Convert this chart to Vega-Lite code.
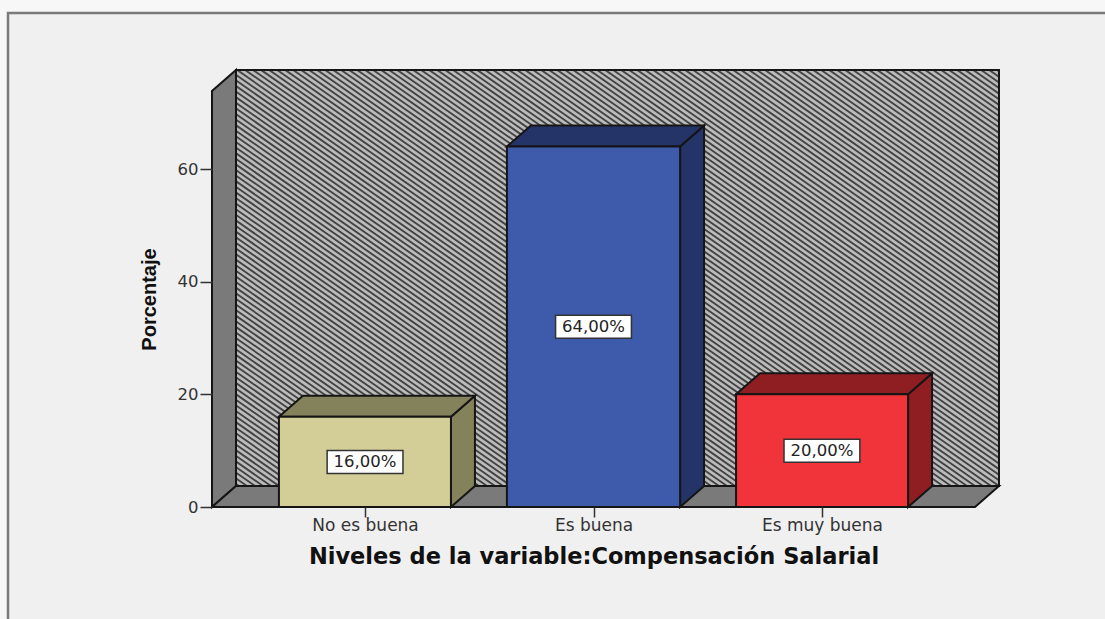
{
"$schema":"https://vega.github.io/schema/vega-lite/v6.json",
"width":763,"height":416,
"autosize":"none",
"padding":{"left":212,"top":91,"right":130,"bottom":112},
"background":"#f7f7f7",
"config":{"view":{"stroke":null}},
"datasets":{
"planos":[
{"part":"panel","x":-0.563,"x2":4.3,"y":-21,"y2":87.7},
{"part":"pared","x":0.435,"x2":3.775,"y":3.73,"y2":77.58}
],
"cubiertas":[
{"part":"panel","x":-0.563,"x2":0.435,"y":-21,"y2":87.7},
{"part":"panel","x":3.775,"x2":4.3,"y":-21,"y2":87.7},
{"part":"panel","x":0.4,"x2":3.8,"y":77.58,"y2":81},
{"part":"panel","x":0.4,"x2":3.8,"y":-1,"y2":3.73},
{"part":"exterior","x":-1.8,"x2":-0.563,"y":-21,"y2":95}
],
"marco":[{"x":-0.563,"x2":4.3,"y":-21,"y2":87.7}],
"fondo":[{"x":0.435,"x2":3.775,"y":3.73,"y2":77.58}],
"trama":[{"x":2.028,"y":40.65}],
"caras":[
{"face":"lateral","part":"muro","x":0.33,"y":0,"y2":73.85},
{"face":"lateral","part":"muro","x":0.435,"y":3.73,"y2":77.58},
{"face":"suelo","part":"muro","x":0.33,"y":0,"y2":0},
{"face":"suelo","part":"muro","x":0.435,"y":0,"y2":3.73},
{"face":"suelo","part":"muro","x":3.67,"y":0,"y2":3.73},
{"face":"suelo","part":"muro","x":3.775,"y":3.73,"y2":3.73},
{"face":"lado1","part":"sombra1","x":1.376,"y":0,"y2":16},
{"face":"lado1","part":"sombra1","x":1.481,"y":3.73,"y2":19.73},
{"face":"tapa1","part":"sombra1","x":0.623,"y":16,"y2":16},
{"face":"tapa1","part":"sombra1","x":0.728,"y":16,"y2":19.73},
{"face":"tapa1","part":"sombra1","x":1.376,"y":16,"y2":19.73},
{"face":"tapa1","part":"sombra1","x":1.481,"y":19.73,"y2":19.73},
{"face":"lado2","part":"sombra2","x":2.379,"y":0,"y2":64},
{"face":"lado2","part":"sombra2","x":2.484,"y":3.73,"y2":67.73},
{"face":"tapa2","part":"sombra2","x":1.621,"y":64,"y2":64},
{"face":"tapa2","part":"sombra2","x":1.726,"y":64,"y2":67.73},
{"face":"tapa2","part":"sombra2","x":2.379,"y":64,"y2":67.73},
{"face":"tapa2","part":"sombra2","x":2.484,"y":67.73,"y2":67.73},
{"face":"lado3","part":"sombra3","x":3.377,"y":0,"y2":20},
{"face":"lado3","part":"sombra3","x":3.482,"y":3.73,"y2":23.73},
{"face":"tapa3","part":"sombra3","x":2.624,"y":20,"y2":20},
{"face":"tapa3","part":"sombra3","x":2.729,"y":20,"y2":23.73},
{"face":"tapa3","part":"sombra3","x":3.377,"y":20,"y2":23.73},
{"face":"tapa3","part":"sombra3","x":3.482,"y":23.73,"y2":23.73}
],
"barras":[
{"part":"frente1","nivel":"No es buena","orden":1,"pct":16,"etiqueta":"16,00%","x":0.623,"x2":1.376,"mid":8,"bx":0.834,"bx2":1.166,"by":5.96,"by2":10.04},
{"part":"frente2","nivel":"Es buena","orden":2,"pct":64,"etiqueta":"64,00%","x":1.621,"x2":2.379,"mid":32,"bx":1.834,"bx2":2.166,"by":29.96,"by2":34.04},
{"part":"frente3","nivel":"Es muy buena","orden":3,"pct":20,"etiqueta":"20,00%","x":2.624,"x2":3.377,"mid":10,"bx":2.834,"bx2":3.166,"by":7.96,"by2":12.04}
]
},
"encoding":{
"x":{"field":"x","type":"quantitative","scale":{"domain":[0.33,3.67],"nice":false,"zero":false},
"axis":{"values":[1,2,3],"grid":false,"domain":false,"zindex":1,"tickSize":10,"tickColor":"#333333","tickWidth":1.5,"labelPadding":0,
"labelExpr":"datum.value==1?'No es buena':datum.value==2?'Es buena':'Es muy buena'",
"labelFont":"DejaVu Sans","labelFontSize":17,"labelColor":"#333333","labelFlush":false,"labelOverlap":false,
"title":"Niveles de la variable:Compensación Salarial","titleFont":"DejaVu Sans","titleFontSize":22.5,"titleFontWeight":"bold","titleColor":"#111111","titlePadding":12}},
"y":{"field":"y","type":"quantitative","stack":null,"scale":{"domain":[0,73.85],"nice":false,"zero":false},
"axis":{"values":[0,20,40,60],"grid":false,"domain":false,"zindex":1,"tickSize":12,"tickColor":"#333333","tickWidth":1.5,"labelPadding":2,
"labelFont":"DejaVu Sans","labelFontSize":16.5,"labelColor":"#333333",
"title":"Porcentaje","titleFont":"Liberation Sans","titleFontSize":20,"titleFontWeight":"bold","titleColor":"#111111","titlePadding":18}}
},
"layer":[
{"data":{"name":"planos"},"mark":{"type":"rect"},
"encoding":{"x2":{"field":"x2"},"y2":{"field":"y2"},
"color":{"field":"part","type":"nominal","legend":null,"scale":{"domain":["panel","exterior","pared","muro","frente1","frente2","frente3","sombra1","sombra2","sombra3"],"range":["#f0f0f0","#f7f7f7","#bcbcbc","#7a7a7a","#d3ce97","#3e5aaa","#f1343a","#83825a","#243468","#8f1e22"]}}}},
{"data":{"name":"trama"},"mark":{"type":"point","filled":false,"opacity":1,"size":4,"stroke":"#444444","strokeWidth":1.9,
"shape":"M-985 -218l621 435h8l-621-435h8l621 435h8l-621-435h8l621 435h8l-621-435h8l621 435h8l-621-435h8l621 435h8l-621-435h8l621 435h8l-621-435h8l621 435h8l-621-435h8l621 435h8l-621-435h8l621 435h8l-621-435h8l621 435h8l-621-435h8l621 435h8l-621-435h8l621 435h8l-621-435h8l621 435h8l-621-435h8l621 435h8l-621-435h8l621 435h8l-621-435h8l621 435h8l-621-435h8l621 435h8l-621-435h8l621 435h8l-621-435h8l621 435h8l-621-435h8l621 435h8l-621-435h8l621 435h8l-621-435h8l621 435h8l-621-435h8l621 435h8l-621-435h8l621 435h8l-621-435h8l621 435h8l-621-435h8l621 435h8l-621-435h8l621 435h8l-621-435h8l621 435h8l-621-435h8l621 435h8l-621-435h8l621 435h8l-621-435h8l621 435h8l-621-435h8l621 435h8l-621-435h8l621 435h8l-621-435h8l621 435h8l-621-435h8l621 435h8l-621-435h8l621 435h8l-621-435h8l621 435h8l-621-435h8l621 435h8l-621-435h8l621 435h8l-621-435h8l621 435h8l-621-435h8l621 435h8l-621-435h8l621 435h8l-621-435h8l621 435h8l-621-435h8l621 435h8l-621-435h8l621 435h8l-621-435h8l621 435h8l-621-435h8l621 435h8l-621-435h8l621 435h8l-621-435h8l621 435h8l-621-435h8l621 435h8l-621-435h8l621 435h8l-621-435h8l621 435h8l-621-435h8l621 435h8l-621-435h8l621 435h8l-621-435h8l621 435h8l-621-435h8l621 435h8l-621-435h8l621 435h8l-621-435h8l621 435h8l-621-435h8l621 435h8l-621-435h8l621 435h8l-621-435h8l621 435h8l-621-435h8l621 435h8l-621-435h8l621 435h8l-621-435h8l621 435h8l-621-435h8l621 435h8l-621-435h8l621 435h8l-621-435h8l621 435h8l-621-435h8l621 435h8l-621-435h8l621 435h8l-621-435h8l621 435h8l-621-435h8l621 435h8l-621-435h8l621 435h8l-621-435h8l621 435h8l-621-435h8l621 435h8l-621-435h8l621 435h8l-621-435h8l621 435h8l-621-435h8l621 435h8l-621-435h8l621 435h8l-621-435h8l621 435h8l-621-435h8l621 435h8l-621-435h8l621 435h8l-621-435h8l621 435h8l-621-435h8l621 435h8l-621-435h8l621 435h8l-621-435h8l621 435h8l-621-435h8l621 435h8l-621-435h8l621 435h8l-621-435h8l621 435h8l-621-435h8l621 435h8l-621-435h8l621 435h8l-621-435h8l621 435h8l-621-435h8l621 435h8l-621-435h8l621 435h8l-621-435h8l621 435h8l-621-435h8l621 435h8l-621-435h8l621 435h8l-621-435h8l621 435h8l-621-435h8"},
"encoding":{}},
{"data":{"name":"cubiertas"},"mark":{"type":"rect"},
"encoding":{"x2":{"field":"x2"},"y2":{"field":"y2"},"color":{"field":"part","type":"nominal","legend":null}}},
{"data":{"name":"marco"},"mark":{"type":"rect","fillOpacity":0,"stroke":"#7a7a7a","strokeWidth":2.5},
"encoding":{"x2":{"field":"x2"},"y2":{"field":"y2"}}},
{"data":{"name":"fondo"},"mark":{"type":"rect","fillOpacity":0,"stroke":"#151515","strokeWidth":2},
"encoding":{"x2":{"field":"x2"},"y2":{"field":"y2"}}},
{"data":{"name":"caras"},"mark":{"type":"area","orient":"vertical","stroke":"#151515","strokeWidth":2,"opacity":1},
"encoding":{"y2":{"field":"y2"},"detail":{"field":"face","type":"nominal"},"color":{"field":"part","type":"nominal","legend":null}}},
{"data":{"name":"barras"},"mark":{"type":"rect","stroke":"#151515","strokeWidth":2},
"encoding":{"x2":{"field":"x2"},"y":{"field":"pct","type":"quantitative"},"y2":{"datum":0},"color":{"field":"part","type":"nominal","legend":null}}},
{"data":{"name":"barras"},"mark":{"type":"rect","fill":"#ffffff","stroke":"#333333","strokeWidth":1.5},
"encoding":{"x":{"field":"bx","type":"quantitative"},"x2":{"field":"bx2"},"y":{"field":"by","type":"quantitative"},"y2":{"field":"by2"}}},
{"data":{"name":"barras"},"mark":{"type":"text","font":"DejaVu Sans","fontSize":16.5,"color":"#222222","baseline":"middle","align":"center"},
"encoding":{"x":{"field":"orden","type":"quantitative"},"y":{"field":"mid","type":"quantitative"},"text":{"field":"etiqueta"}}}
]
}
